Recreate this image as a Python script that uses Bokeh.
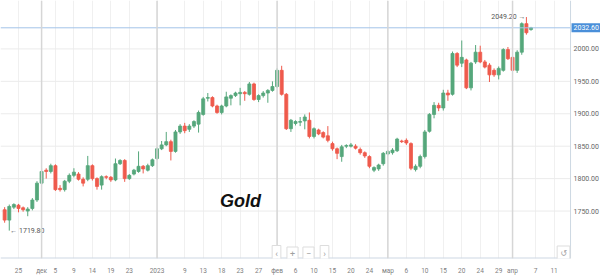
from bokeh.plotting import figure
from bokeh.models import Range1d, FixedTicker, Span, Label
from bokeh.core.properties import value
from bokeh.embed import file_html
from bokeh.resources import INLINE

# ---- data ----
opens = [1752, 1736, 1756, 1759, 1755, 1750, 1754, 1767, 1793, 1813,
         1811, 1820, 1785, 1783, 1796, 1805, 1807, 1799, 1799, 1820,
         1800, 1790, 1803, 1802, 1798, 1823, 1828, 1800, 1807, 1811,
         1819, 1813, 1820, 1831, 1846, 1852, 1857, 1842, 1872, 1881,
         1876, 1881, 1884, 1899, 1924, 1925, 1912, 1902, 1912, 1924,
         1928, 1931, 1933, 1930, 1946, 1922, 1928, 1932, 1936, 1942,
         1967, 1930, 1877, 1885, 1887, 1889, 1890, 1865, 1875, 1871,
         1866, 1854, 1846, 1834, 1850, 1850, 1850, 1845, 1840, 1834,
         1813, 1815, 1823, 1838, 1840, 1843, 1858, 1859, 1854, 1814,
         1819, 1834, 1873, 1899, 1913, 1909, 1932, 1930, 1993, 1978,
         1983, 1940, 1980, 1995, 1980, 1975, 1967, 1960, 1967, 1999,
         1987, 1967, 1995, 2039, 2030]
highs = [1756, 1760, 1762, 1761, 1757, 1756, 1770, 1796, 1816, 1816,
         1823, 1822, 1790, 1798, 1808, 1816, 1810, 1802, 1835, 1822,
         1802, 1805, 1805, 1804, 1831, 1830, 1830, 1807, 1815, 1842,
         1821, 1823, 1831, 1848, 1858, 1872, 1860, 1875, 1884, 1886,
         1884, 1890, 1905, 1926, 1932, 1927, 1914, 1914, 1934, 1930,
         1934, 1940, 1935, 1949, 1948, 1930, 1935, 1938, 1950, 1970,
         1974, 1932, 1892, 1890, 1895, 1899, 1902, 1879, 1877, 1873,
         1881, 1857, 1848, 1852, 1853, 1855, 1853, 1848, 1842, 1836,
         1819, 1823, 1841, 1844, 1847, 1863, 1860, 1862, 1856, 1822,
         1837, 1875, 1901, 1918, 1917, 1937, 1937, 1996, 1995, 2013,
         1985, 1980, 2006, 2005, 1983, 1978, 1970, 1973, 2001, 2003,
         1990, 1998, 2041, 2049.2, 2034]
lows = [1732, 1719.8, 1753, 1748, 1749, 1742, 1751, 1764, 1790, 1800,
        1808, 1781, 1780, 1780, 1793, 1802, 1797, 1788, 1796, 1797,
        1783, 1783, 1799, 1795, 1796, 1821, 1795, 1798, 1805, 1809,
        1808, 1811, 1818, 1829, 1844, 1850, 1828, 1840, 1869, 1870,
        1872, 1878, 1871, 1897, 1919, 1910, 1900, 1899, 1910, 1913,
        1926, 1913, 1920, 1928, 1920, 1918, 1925, 1917, 1934, 1940,
        1928, 1875, 1872, 1882, 1881, 1876, 1862, 1862, 1867, 1862,
        1856, 1843, 1830, 1826, 1847, 1848, 1845, 1837, 1832, 1816,
        1810, 1812, 1820, 1836, 1837, 1841, 1855, 1852, 1813, 1811,
        1816, 1831, 1871, 1893, 1904, 1905, 1920, 1928, 1972, 1972,
        1938, 1936, 1977, 1978, 1970, 1949, 1957, 1953, 1965, 1983,
        1964, 1963, 1991, 2022, 2028]
closes = [1736, 1757, 1760, 1754, 1752, 1753, 1767, 1793, 1811, 1811,
          1820, 1783, 1783, 1796, 1805, 1810, 1799, 1793, 1820, 1800,
          1788, 1803, 1802, 1798, 1823, 1828, 1800, 1805, 1813, 1819,
          1815, 1820, 1829, 1846, 1852, 1857, 1842, 1872, 1881, 1874,
          1881, 1888, 1902, 1923, 1925, 1912, 1902, 1912, 1926, 1928,
          1932, 1933, 1931, 1946, 1922, 1928, 1932, 1936, 1942, 1967,
          1930, 1877, 1890, 1888, 1888, 1895, 1865, 1877, 1869, 1864,
          1859, 1846, 1839, 1849, 1851, 1852, 1847, 1840, 1835, 1819,
          1817, 1821, 1839, 1842, 1844, 1861, 1857, 1855, 1816, 1819,
          1834, 1872, 1899, 1913, 1909, 1932, 1929, 1993, 1975, 1987,
          1940, 1978, 1995, 1980, 1972, 1960, 1960, 1970, 1999, 1985,
          1967, 1995, 2039, 2025, 2032.6]

tick_index = [3, 8, 11, 15, 19, 23, 27, 33, 39, 43, 47, 51, 55, 59, 63, 67,
              71, 75, 79, 83, 87, 91, 95, 99, 103, 107, 110, 115, 119]
tick_labels = ["25", "дек", "5", "9", "14", "19", "23", "2023", "9", "13",
               "18", "23", "27", "фев", "6", "10", "15", "20", "24", "мар",
               "6", "10", "15", "20", "24", "29", "апр", "7", "11"]
month_index = [8, 33, 59, 83, 110]
y_ticks = [1750, 1800, 1850, 1900, 1950, 2000]
chart_title = "Gold"

UP = "#55a77b"
DOWN = "#ef5a4c"
FONT = "Roboto"

idx = list(range(len(closes)))
colors = [UP if c >= o else DOWN for o, c in zip(opens, closes)]
tops = [max(o, c) for o, c in zip(opens, closes)]
bots = [min(o, c) for o, c in zip(opens, closes)]

# chart area spans bar -0.9 .. 122.56; the price scale sits to its right
X0, X1 = -0.9, 122.56
XSCALE_END = 129.05
Y0, Y1 = 1676.8, 2074.7

p = figure(width=600, height=277, output_backend="svg", toolbar_location=None,
           x_range=Range1d(X0, XSCALE_END), y_range=Range1d(Y0, Y1),
           y_axis_location=None,
           min_border_left=0, min_border_top=0, min_border_right=0, min_border_bottom=16)
p.background_fill_color = "white"
p.border_fill_color = "white"
p.outline_line_color = None

# x axis (dates)
p.xaxis.ticker = FixedTicker(ticks=tick_index)
p.xaxis.major_label_overrides = {t: l for t, l in zip(tick_index, tick_labels)}
p.xaxis.major_label_text_font_size = "6.5px"
p.xaxis.major_label_text_font = FONT
p.xaxis.major_label_text_color = "#808080"
p.xaxis.major_tick_line_color = None
p.xaxis.minor_tick_line_color = None
p.xaxis.axis_line_color = None
p.xaxis.major_label_standoff = 2

p.xgrid.ticker = FixedTicker(ticks=tick_index)
p.xgrid.grid_line_color = "#f0f0f0"
p.ygrid.grid_line_color = None

# horizontal grid lines limited to the chart area
p.segment(x0=[X0] * len(y_ticks), y0=y_ticks, x1=[X1] * len(y_ticks), y1=y_ticks,
          line_color="#ebebeb", line_width=1)

for m in month_index:
    p.add_layout(Span(location=m, dimension="height", line_color="#d6d6d6", line_width=1.5))

# price scale: border line, labels
p.add_layout(Span(location=X1, dimension="height", line_color="#cdd8e3", line_width=1))
p.segment(x0=[X0], y0=[Y0], x1=[X1], y1=[Y0], line_color="#cdd8e3", line_width=2)
p.text(x=[X1] * len(y_ticks), y=y_ticks, text=[f"{v:.2f}" for v in y_ticks],
       text_font=value(FONT), text_font_size="7px", text_color="#666666",
       text_align="left", text_baseline="middle", x_offset=3)

# candles
p.segment(x0=idx, y0=lows, x1=idx, y1=highs, line_color=colors, line_width=1)
p.vbar(x=idx, width=0.66, top=tops, bottom=bots, fill_color=colors, line_color=colors, line_width=0.8)

# last price line + box
last = closes[-1]
p.segment(x0=[X0], y0=[last], x1=[X1], y1=[last], line_color="#a3c4e8", line_width=1)
p.add_layout(Label(x=X1, y=last, x_offset=1, text=f"{last:.2f}",
                   text_font=FONT, text_font_size="7px", text_color="white",
                   text_baseline="middle", background_fill_color="#4a8fd9", padding=2))

# max / min annotations
imax = max(idx, key=lambda i: highs[i])
imin = min(idx, key=lambda i: lows[i])
p.text(x=[imax], y=[highs[imax]], text=[f"{highs[imax]:.2f} →"], text_font=value(FONT),
       text_font_size="7px", text_color="#555555", text_align="right", text_baseline="middle",
       x_offset=-1)
p.text(x=[imin], y=[lows[imin]], text=[f"← {lows[imin]:.2f}"], text_font=value(FONT),
       text_font_size="7px", text_color="#555555", text_align="left", text_baseline="middle",
       x_offset=1)

# title inside chart
p.add_layout(Label(x=240, y=58, x_units="screen", y_units="screen", text=chart_title,
                   text_font="Liberation Sans", text_font_style="bold italic",
                   text_font_size="18px", text_color="#111111",
                   text_align="center", text_baseline="middle"))

# navigation buttons
for cx, sym in zip([276, 292, 308, 324], ["‹", "+", "−", "›"]):
    p.add_layout(Label(x=cx, y=5, x_units="screen", y_units="screen", text=sym,
                       text_font=FONT, text_font_size="9px", text_color="#a0a0a0",
                       text_align="center", text_baseline="middle",
                       border_line_color="#dddddd", background_fill_color="white", padding=3))
p.add_layout(Label(x=563, y=5, x_units="screen", y_units="screen", text="↺",
                   text_font="DejaVu Sans", text_font_size="8px", text_color="#a0a0a0",
                   text_align="center", text_baseline="middle",
                   border_line_color="#dddddd", background_fill_color="white", padding=3))

open("out.html", "w").write(file_html(p, INLINE))
